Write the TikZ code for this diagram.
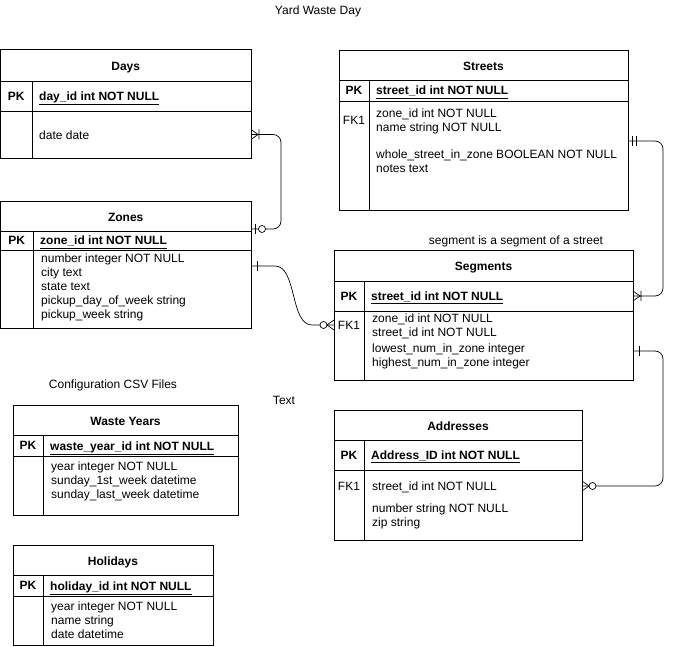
\documentclass[tikz,border=0pt]{standalone}
\usepackage{fontspec}
\setmainfont{Liberation Sans}
\usetikzlibrary{calc}
\tikzset{cell/.style={draw, rectangle, anchor=north west, inner sep=0pt, outer sep=0pt, line width=0.8pt}}
\tikzset{hdr/.style={cell, text height=10.6pt, text depth=0pt, font=\fontsize{12}{14}\selectfont\bfseries}}
\tikzset{keytxt/.style={inner sep=0pt, font=\fontsize{12}{14}\selectfont\bfseries}}
\tikzset{fld/.style={inner sep=0pt, anchor=base west}}
\tikzset{lbl/.style={inner sep=0pt}}
\tikzset{conn/.style={line width=0.7pt}}
\tikzset{
  mone/.pic={\draw[conn] (6,-5) -- (6,5);},
  mtwo/.pic={\draw[conn] (4,-5) -- (4,5) (8,-5) -- (8,5);},
  onemany/.pic={\draw[conn] (0,-5) -- (7,0) -- (0,5) (8,-5) -- (8,5);},
  zeromany/.pic={\draw[conn] (0,-5) -- (7,0) -- (0,5); \draw[conn, fill=white] (10.5,0) circle (3.5pt);},
  zeroone/.pic={\draw[conn] (4,-5) -- (4,5); \draw[conn, fill=white] (11,0) circle (3.5pt);}
}

\begin{document}
\begin{tikzpicture}[x=1pt, y=-1pt, font=\fontsize{12}{14}\selectfont]
\useasboundingbox (0,0) rectangle (673,647);

% tables: name/left/right/top/header/pk/bottom/key column/title/primary key
\foreach \n/\xa/\xb/\ya/\yh/\yp/\yb/\xk/\ttl/\pk in {
  days/0.5/251/49/81/111/158/32/Days/day\_id int NOT NULL,
  streets/339/628/50/80/101/210/369/Streets/street\_id int NOT NULL,
  zones/0.5/251/201/231/250/328/33/Zones/zone\_id int NOT NULL,
  segments/334/633/250/281/311/380/364/Segments/street\_id int NOT NULL,
  addresses/334/582/410/440/470/540/364/Addresses/Address\_ID int NOT NULL,
  years/13/238/405/435/456/515/43/Waste Years/waste\_year\_id int NOT NULL,
  holidays/13/213/545/575/596/645/43/Holidays/holiday\_id int NOT NULL}{
  \node[hdr, minimum width={(\xb-\xa)*1pt}, minimum height={(\yh-\ya)*1pt}] (\n) at (\xa,\ya) {\ttl};
  \node[cell, minimum width={(\xk-\xa)*1pt}, minimum height={(\yp-\yh)*1pt}] (\n-pkk) at (\xa,\yh) {};
  \node[cell, minimum width={(\xb-\xk)*1pt}, minimum height={(\yp-\yh)*1pt}] (\n-pk) at (\xk,\yh) {};
  \node[cell, minimum width={(\xk-\xa)*1pt}, minimum height={(\yb-\yp)*1pt}] (\n-fkk) at (\xa,\yp) {};
  \node[cell, minimum width={(\xb-\xk)*1pt}, minimum height={(\yb-\yp)*1pt}] (\n-body) at (\xk,\yp) {};
  \node[keytxt] (\n-pkl) at (\n-pkk.center) {PK};
  \node[fld, font=\fontsize{12}{14}\selectfont\bfseries] (\n-pkt) at ($(\n-pk.west)+(7,4.5)$) {\underline{\pk}};
}

% fields
\node[fld] (days-f) at (39,139.5) {date date};
\node[lbl] (streets-fk) at (354,120) {FK1};
\foreach \y/\t in {113/zone\_id int NOT NULL, 127/name string NOT NULL, 154/whole\_street\_in\_zone BOOLEAN NOT NULL, 168/notes text}
  \node[fld] (streets-\y) at (376,\y+4.5) {\t};
\foreach \y/\t in {258/number integer NOT NULL, 272/city text, 286/state text, 300/pickup\_day\_of\_week string, 314/pickup\_week string}
  \node[fld] (zones-\y) at (41,\y+4.5) {\t};
\node[lbl] (segments-fk) at (349,325) {FK1};
\foreach \y/\t in {318/zone\_id int NOT NULL, 332/street\_id int NOT NULL, 348/lowest\_num\_in\_zone integer, 362/highest\_num\_in\_zone integer}
  \node[fld] (segments-\y) at (372,\y+4.5) {\t};
\node[lbl] (addresses-fk) at (349,486) {FK1};
\foreach \y/\t in {486/street\_id int NOT NULL, 508/number string NOT NULL, 522/zip string}
  \node[fld] (addresses-\y) at (372,\y+4.5) {\t};
\foreach \y/\t in {466/year integer NOT NULL, 480/sunday\_1st\_week datetime, 494/sunday\_last\_week datetime}
  \node[fld] (years-\y) at (51,\y+4.5) {\t};
\foreach \y/\t in {606/year integer NOT NULL, 620/name string, 634/date datetime}
  \node[fld] (holidays-\y) at (51,\y+4.5) {\t};

% free labels
\node[lbl] (title) at (318,11) {Yard Waste Day};
\node[lbl] (segnote) at (516,241) {segment is a segment of a street};
\node[lbl] (cfgnote) at (113,385) {Configuration CSV Files};
\node[lbl] (textnote) at (284,400) {Text};

% relations
\draw[conn, rounded corners=8pt] (days-body.east) -- ++(30,0) |- ([yshift=2pt]zones.south east);
\pic at (days-body.east) {onemany};
\pic at ([yshift=2pt]zones.south east) {zeroone};

\coordinate (s1) at ($(zones-body.north east)+(24,16)$);
\coordinate (s2) at ($(segments-fkk.west |- segments-fk)+(-22,0)$);
\draw[conn] ([yshift=-16pt]zones-body.north east) -- (s1) .. controls ($(s1)+(22,0)$) and ($(s2)+(-22,0)$) .. (s2) -- (segments-fkk.west |- segments-fk);
\pic at ([yshift=-16pt]zones-body.north east) {mone};
\pic[rotate=180] at (segments-fkk.west |- segments-fk) {zeromany};

\draw[conn, rounded corners=8pt] ([yshift=-40pt]streets-body.north east) -- ++(35,0) |- (segments-pk.east);
\pic at ([yshift=-40pt]streets-body.north east) {mtwo};
\pic at (segments-pk.east) {onemany};

\draw[conn, rounded corners=8pt] ([yshift=-40pt]segments-body.north east) -- ++(30,0) |- (addresses-body.east |- addresses-fk);
\pic at ([yshift=-40pt]segments-body.north east) {mone};
\pic at (addresses-body.east |- addresses-fk) {zeromany};
\end{tikzpicture}
\end{document}
